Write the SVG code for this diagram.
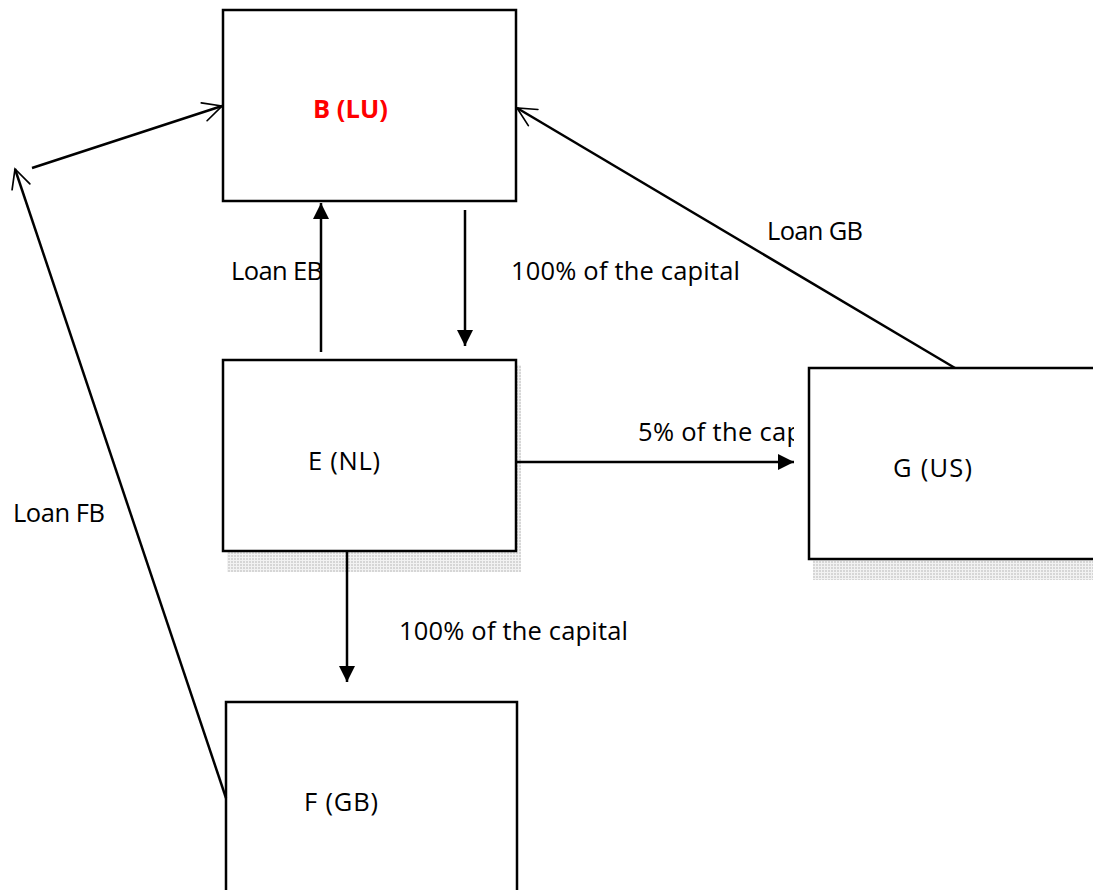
<svg xmlns="http://www.w3.org/2000/svg" width="1093" height="890" viewBox="0 0 1093 890">
<style>
.box{fill:#fff;stroke:#000;stroke-width:2.5}
.shadow{fill:url(#dots)}
.t{font-family:"Open Sans","Liberation Sans",sans-serif;font-size:25.5px;fill:#000}
.ln{stroke:#000;stroke-width:2.5;fill:none}
</style>
<defs>
<pattern id="dots" width="3" height="3" patternUnits="userSpaceOnUse">
<rect width="3" height="3" fill="#f2f2f2"/>
<rect width="2" height="2" fill="#d6d6d6"/>
</pattern>
<marker id="fill" viewBox="0 0 10 10" refX="10" refY="5" markerWidth="6.5" markerHeight="6.5" orient="auto" markerUnits="strokeWidth">
<path d="M0,0 L10,5 L0,10 Z" fill="#000"/>
</marker>
<marker id="open" viewBox="0 0 12 12" refX="11" refY="6" markerWidth="9" markerHeight="9" orient="auto" markerUnits="strokeWidth">
<path d="M1,1 L11,6 L1,11" fill="none" stroke="#000" stroke-width="0.9" stroke-linecap="round"/>
</marker>
<clipPath id="clip5"><rect x="600" y="400" width="194" height="60"/></clipPath>
</defs>

<g id="node-E">
<rect class="shadow" x="227" y="365" width="294" height="207"/>
<rect class="box" x="223" y="360" width="293" height="191"/>
<text class="t" x="308" y="470" textLength="72">E (NL)</text>
</g>
<g id="node-G">
<rect class="shadow" x="813" y="373" width="290" height="207"/>
<rect class="box" x="809" y="368" width="290" height="191"/>
<text class="t" x="893" y="477" textLength="79">G (US)</text>
</g>
<g id="node-B">
<rect class="box" x="223" y="10" width="293" height="191"/>
<text class="t" x="313" y="118" textLength="75" style="font-weight:bold;fill:#ff0000">B (LU)</text>
</g>
<g id="node-F">
<rect class="box" x="226" y="702" width="291" height="200"/>
<text class="t" x="304" y="811" textLength="74">F (GB)</text>
</g>

<g id="connectors">
<line class="ln" x1="321" y1="352" x2="321" y2="203" marker-end="url(#fill)"/>
<line class="ln" x1="465" y1="210" x2="465" y2="346" marker-end="url(#fill)"/>
<line class="ln" x1="516" y1="462" x2="794" y2="462" marker-end="url(#fill)"/>
<line class="ln" x1="347" y1="551" x2="347" y2="682" marker-end="url(#fill)"/>
<line class="ln" x1="226" y1="798" x2="15" y2="169" marker-end="url(#open)"/>
<line class="ln" x1="32" y1="168" x2="222" y2="106" marker-end="url(#open)"/>
<line class="ln" x1="955" y1="368" x2="517" y2="108" marker-end="url(#open)"/>
</g>

<g id="labels">
<text class="t" x="231" y="280" textLength="92">Loan EB</text>
<text class="t" x="511" y="280" textLength="229">100% of the capital</text>
<text class="t" x="767" y="240" textLength="96">Loan GB</text>
<text class="t" x="13" y="522" textLength="92">Loan FB</text>
<text class="t" x="399" y="640" textLength="229">100% of the capital</text>
<text class="t" x="638" y="441" clip-path="url(#clip5)" textLength="164">5% of the cap</text>
</g>
</svg>
